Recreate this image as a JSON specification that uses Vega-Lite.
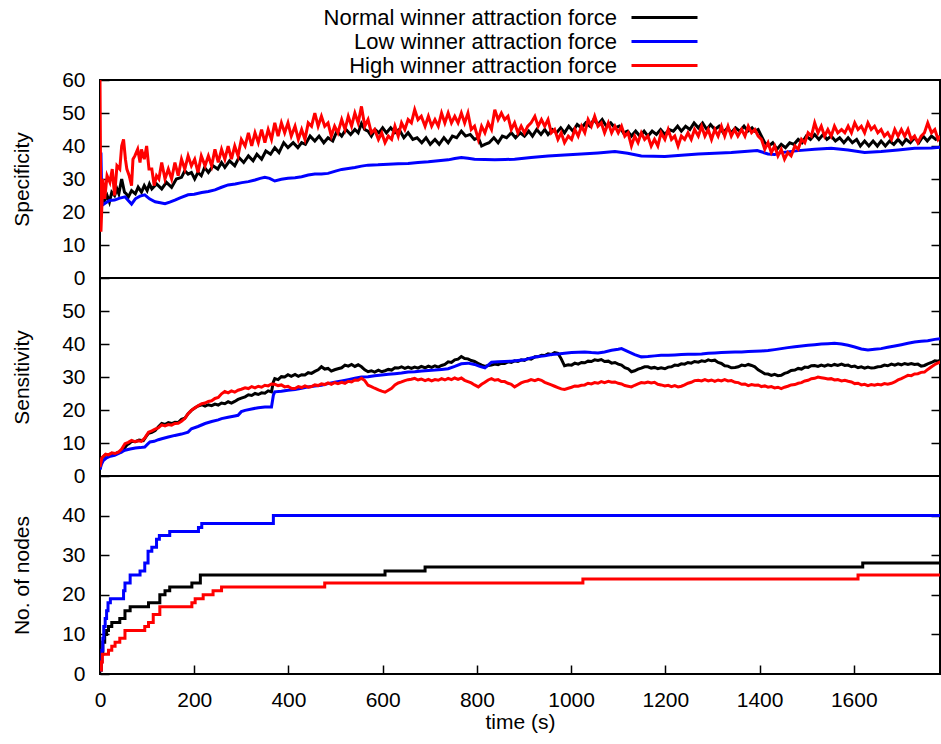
{
"$schema": "https://vega.github.io/schema/vega-lite/v6.json",
"padding": {"left": 10, "top": 5, "right": 0, "bottom": 5},
"background": "white",
"datasets": {
"spec": [
{"t":0,"v":30,"s":"N"},{"t":3,"v":22,"s":"N"},{"t":7,"v":25,"s":"N"},{"t":10,"v":23.5,"s":"N"},{"t":15,"v":25,"s":"N"},{"t":20,"v":23,"s":"N"},{"t":25,"v":26,"s":"N"},{"t":31,"v":25,"s":"N"},{"t":36,"v":27,"s":"N"},{"t":40,"v":25.5,"s":"N"},{"t":46,"v":30,"s":"N"},{"t":52,"v":26,"s":"N"},{"t":56,"v":25.5,"s":"N"},{"t":60,"v":24.5,"s":"N"},{"t":67,"v":26.5,"s":"N"},{"t":75,"v":25.5,"s":"N"},{"t":81,"v":27.5,"s":"N"},{"t":88,"v":26,"s":"N"},{"t":94,"v":28,"s":"N"},{"t":100,"v":26.5,"s":"N"},{"t":105,"v":28.5,"s":"N"},{"t":110,"v":27,"s":"N"},{"t":120,"v":28.5,"s":"N"},{"t":131,"v":27,"s":"N"},{"t":141,"v":29,"s":"N"},{"t":152,"v":27.5,"s":"N"},{"t":162,"v":30,"s":"N"},{"t":173,"v":30.5,"s":"N"},{"t":180,"v":32.5,"s":"N"},{"t":187,"v":31.5,"s":"N"},{"t":194,"v":32,"s":"N"},{"t":201,"v":30,"s":"N"},{"t":208,"v":32,"s":"N"},{"t":215,"v":31,"s":"N"},{"t":222,"v":33.5,"s":"N"},{"t":230,"v":32,"s":"N"},{"t":240,"v":34,"s":"N"},{"t":250,"v":33,"s":"N"},{"t":258,"v":35,"s":"N"},{"t":265,"v":33.5,"s":"N"},{"t":275,"v":35.5,"s":"N"},{"t":286,"v":34,"s":"N"},{"t":295,"v":36.5,"s":"N"},{"t":305,"v":35,"s":"N"},{"t":315,"v":37,"s":"N"},{"t":325,"v":35.5,"s":"N"},{"t":333,"v":37.5,"s":"N"},{"t":343,"v":36,"s":"N"},{"t":352,"v":38.5,"s":"N"},{"t":362,"v":37.5,"s":"N"},{"t":371,"v":39.5,"s":"N"},{"t":380,"v":38,"s":"N"},{"t":390,"v":41,"s":"N"},{"t":399,"v":39.5,"s":"N"},{"t":410,"v":41,"s":"N"},{"t":420,"v":39.5,"s":"N"},{"t":428,"v":41,"s":"N"},{"t":436,"v":40.5,"s":"N"},{"t":446,"v":43,"s":"N"},{"t":456,"v":41.5,"s":"N"},{"t":465,"v":43,"s":"N"},{"t":475,"v":41,"s":"N"},{"t":484,"v":42.5,"s":"N"},{"t":494,"v":41.5,"s":"N"},{"t":503,"v":44.5,"s":"N"},{"t":513,"v":43,"s":"N"},{"t":522,"v":45,"s":"N"},{"t":532,"v":43.5,"s":"N"},{"t":541,"v":45,"s":"N"},{"t":548,"v":44,"s":"N"},{"t":555,"v":46.8,"s":"N"},{"t":562,"v":45,"s":"N"},{"t":569,"v":44.5,"s":"N"},{"t":576,"v":43,"s":"N"},{"t":584,"v":45,"s":"N"},{"t":592,"v":44,"s":"N"},{"t":600,"v":45.5,"s":"N"},{"t":608,"v":44,"s":"N"},{"t":617,"v":45.5,"s":"N"},{"t":626,"v":44,"s":"N"},{"t":635,"v":45,"s":"N"},{"t":645,"v":42.5,"s":"N"},{"t":654,"v":44,"s":"N"},{"t":664,"v":42,"s":"N"},{"t":673,"v":42.5,"s":"N"},{"t":683,"v":41,"s":"N"},{"t":692,"v":42.5,"s":"N"},{"t":701,"v":40.5,"s":"N"},{"t":711,"v":42,"s":"N"},{"t":720,"v":40.5,"s":"N"},{"t":730,"v":42.5,"s":"N"},{"t":739,"v":41,"s":"N"},{"t":748,"v":43,"s":"N"},{"t":757,"v":42.5,"s":"N"},{"t":767,"v":44.5,"s":"N"},{"t":776,"v":43,"s":"N"},{"t":786,"v":43.5,"s":"N"},{"t":795,"v":42,"s":"N"},{"t":803,"v":42.5,"s":"N"},{"t":810,"v":40,"s":"N"},{"t":817,"v":40.5,"s":"N"},{"t":826,"v":41,"s":"N"},{"t":836,"v":42.5,"s":"N"},{"t":845,"v":41,"s":"N"},{"t":854,"v":43,"s":"N"},{"t":863,"v":42.5,"s":"N"},{"t":873,"v":44,"s":"N"},{"t":882,"v":42.5,"s":"N"},{"t":892,"v":44,"s":"N"},{"t":901,"v":43,"s":"N"},{"t":910,"v":44.5,"s":"N"},{"t":918,"v":43,"s":"N"},{"t":927,"v":45,"s":"N"},{"t":936,"v":43.5,"s":"N"},{"t":944,"v":45,"s":"N"},{"t":951,"v":43.5,"s":"N"},{"t":960,"v":45,"s":"N"},{"t":969,"v":44,"s":"N"},{"t":978,"v":45.5,"s":"N"},{"t":986,"v":44,"s":"N"},{"t":995,"v":46,"s":"N"},{"t":1004,"v":44.5,"s":"N"},{"t":1013,"v":46.5,"s":"N"},{"t":1022,"v":45.5,"s":"N"},{"t":1031,"v":47,"s":"N"},{"t":1040,"v":46,"s":"N"},{"t":1048,"v":48,"s":"N"},{"t":1057,"v":46.5,"s":"N"},{"t":1066,"v":48,"s":"N"},{"t":1075,"v":46,"s":"N"},{"t":1084,"v":47,"s":"N"},{"t":1093,"v":45.5,"s":"N"},{"t":1102,"v":46,"s":"N"},{"t":1111,"v":44,"s":"N"},{"t":1120,"v":44.5,"s":"N"},{"t":1128,"v":43,"s":"N"},{"t":1137,"v":44.5,"s":"N"},{"t":1146,"v":43,"s":"N"},{"t":1155,"v":44.5,"s":"N"},{"t":1163,"v":43,"s":"N"},{"t":1172,"v":44.5,"s":"N"},{"t":1181,"v":43.5,"s":"N"},{"t":1190,"v":45,"s":"N"},{"t":1199,"v":43.5,"s":"N"},{"t":1208,"v":45,"s":"N"},{"t":1217,"v":44.5,"s":"N"},{"t":1226,"v":46,"s":"N"},{"t":1234,"v":44.5,"s":"N"},{"t":1243,"v":46,"s":"N"},{"t":1252,"v":45,"s":"N"},{"t":1261,"v":47,"s":"N"},{"t":1270,"v":45.5,"s":"N"},{"t":1279,"v":47,"s":"N"},{"t":1288,"v":45,"s":"N"},{"t":1296,"v":46.5,"s":"N"},{"t":1305,"v":45,"s":"N"},{"t":1314,"v":46,"s":"N"},{"t":1323,"v":44,"s":"N"},{"t":1332,"v":45.5,"s":"N"},{"t":1340,"v":44,"s":"N"},{"t":1349,"v":45.5,"s":"N"},{"t":1358,"v":44.5,"s":"N"},{"t":1367,"v":46,"s":"N"},{"t":1375,"v":44.5,"s":"N"},{"t":1384,"v":45.5,"s":"N"},{"t":1390,"v":44.5,"s":"N"},{"t":1397,"v":45,"s":"N"},{"t":1404,"v":43,"s":"N"},{"t":1411,"v":41,"s":"N"},{"t":1420,"v":40,"s":"N"},{"t":1428,"v":41,"s":"N"},{"t":1437,"v":39,"s":"N"},{"t":1446,"v":40.5,"s":"N"},{"t":1455,"v":39.5,"s":"N"},{"t":1464,"v":41,"s":"N"},{"t":1473,"v":40.5,"s":"N"},{"t":1482,"v":42,"s":"N"},{"t":1490,"v":41,"s":"N"},{"t":1499,"v":43,"s":"N"},{"t":1508,"v":42,"s":"N"},{"t":1517,"v":43.5,"s":"N"},{"t":1526,"v":42,"s":"N"},{"t":1535,"v":43.5,"s":"N"},{"t":1543,"v":42,"s":"N"},{"t":1552,"v":43,"s":"N"},{"t":1561,"v":41.5,"s":"N"},{"t":1570,"v":42.5,"s":"N"},{"t":1579,"v":41,"s":"N"},{"t":1588,"v":42.5,"s":"N"},{"t":1597,"v":41,"s":"N"},{"t":1606,"v":42,"s":"N"},{"t":1614,"v":40,"s":"N"},{"t":1623,"v":41.5,"s":"N"},{"t":1632,"v":40,"s":"N"},{"t":1641,"v":41.5,"s":"N"},{"t":1650,"v":40,"s":"N"},{"t":1658,"v":41.5,"s":"N"},{"t":1667,"v":40,"s":"N"},{"t":1676,"v":41.5,"s":"N"},{"t":1685,"v":40.5,"s":"N"},{"t":1694,"v":42,"s":"N"},{"t":1703,"v":40.5,"s":"N"},{"t":1711,"v":42,"s":"N"},{"t":1720,"v":41,"s":"N"},{"t":1729,"v":42.5,"s":"N"},{"t":1738,"v":41,"s":"N"},{"t":1747,"v":43,"s":"N"},{"t":1756,"v":41.5,"s":"N"},{"t":1765,"v":43,"s":"N"},{"t":1774,"v":42,"s":"N"},{"t":1784,"v":43,"s":"N"},
{"t":0,"v":24,"s":"L"},{"t":2,"v":38,"s":"L"},{"t":4,"v":22,"s":"L"},{"t":10,"v":22.6,"s":"L"},{"t":20,"v":23.5,"s":"L"},{"t":31,"v":23.6,"s":"L"},{"t":42,"v":24.2,"s":"L"},{"t":53,"v":24.6,"s":"L"},{"t":60,"v":23.5,"s":"L"},{"t":67,"v":22.4,"s":"L"},{"t":75,"v":24,"s":"L"},{"t":85,"v":24.8,"s":"L"},{"t":95,"v":25.2,"s":"L"},{"t":105,"v":24,"s":"L"},{"t":117,"v":23.1,"s":"L"},{"t":128,"v":22.8,"s":"L"},{"t":138,"v":22.5,"s":"L"},{"t":148,"v":23,"s":"L"},{"t":159,"v":23.6,"s":"L"},{"t":170,"v":24.3,"s":"L"},{"t":187,"v":25.2,"s":"L"},{"t":200,"v":25.4,"s":"L"},{"t":216,"v":25.9,"s":"L"},{"t":230,"v":26.2,"s":"L"},{"t":244,"v":26.7,"s":"L"},{"t":258,"v":27.5,"s":"L"},{"t":272,"v":28.2,"s":"L"},{"t":287,"v":28.5,"s":"L"},{"t":301,"v":28.9,"s":"L"},{"t":315,"v":29.2,"s":"L"},{"t":329,"v":29.7,"s":"L"},{"t":340,"v":30.2,"s":"L"},{"t":350,"v":30.5,"s":"L"},{"t":360,"v":30.2,"s":"L"},{"t":371,"v":29.4,"s":"L"},{"t":385,"v":29.9,"s":"L"},{"t":399,"v":30.2,"s":"L"},{"t":414,"v":30.4,"s":"L"},{"t":428,"v":30.7,"s":"L"},{"t":442,"v":31.2,"s":"L"},{"t":456,"v":31.5,"s":"L"},{"t":470,"v":31.5,"s":"L"},{"t":484,"v":31.7,"s":"L"},{"t":498,"v":32.3,"s":"L"},{"t":513,"v":32.9,"s":"L"},{"t":527,"v":33.2,"s":"L"},{"t":541,"v":33.5,"s":"L"},{"t":555,"v":33.9,"s":"L"},{"t":569,"v":34.2,"s":"L"},{"t":590,"v":34.3,"s":"L"},{"t":612,"v":34.5,"s":"L"},{"t":633,"v":34.6,"s":"L"},{"t":654,"v":34.7,"s":"L"},{"t":675,"v":35,"s":"L"},{"t":697,"v":35.2,"s":"L"},{"t":718,"v":35.5,"s":"L"},{"t":739,"v":35.8,"s":"L"},{"t":753,"v":36.2,"s":"L"},{"t":767,"v":36.5,"s":"L"},{"t":781,"v":36.3,"s":"L"},{"t":795,"v":36,"s":"L"},{"t":817,"v":35.9,"s":"L"},{"t":838,"v":35.8,"s":"L"},{"t":860,"v":35.9,"s":"L"},{"t":880,"v":36,"s":"L"},{"t":915,"v":36.5,"s":"L"},{"t":951,"v":37,"s":"L"},{"t":986,"v":37.3,"s":"L"},{"t":1022,"v":37.6,"s":"L"},{"t":1057,"v":37.9,"s":"L"},{"t":1093,"v":38.3,"s":"L"},{"t":1120,"v":37.8,"s":"L"},{"t":1149,"v":37,"s":"L"},{"t":1175,"v":36.9,"s":"L"},{"t":1199,"v":36.8,"s":"L"},{"t":1234,"v":37.2,"s":"L"},{"t":1270,"v":37.6,"s":"L"},{"t":1305,"v":37.8,"s":"L"},{"t":1340,"v":38,"s":"L"},{"t":1375,"v":38.4,"s":"L"},{"t":1395,"v":38.6,"s":"L"},{"t":1418,"v":37.6,"s":"L"},{"t":1432,"v":37.4,"s":"L"},{"t":1446,"v":38,"s":"L"},{"t":1482,"v":38.6,"s":"L"},{"t":1517,"v":39,"s":"L"},{"t":1552,"v":39.3,"s":"L"},{"t":1588,"v":38.8,"s":"L"},{"t":1623,"v":38,"s":"L"},{"t":1658,"v":38.3,"s":"L"},{"t":1694,"v":38.8,"s":"L"},{"t":1729,"v":39.3,"s":"L"},{"t":1765,"v":39.4,"s":"L"},{"t":1784,"v":39.6,"s":"L"},
{"t":0,"v":60,"s":"H"},{"t":2,"v":14,"s":"H"},{"t":6,"v":30,"s":"H"},{"t":10,"v":24,"s":"H"},{"t":15,"v":31,"s":"H"},{"t":21,"v":29,"s":"H"},{"t":26,"v":33,"s":"H"},{"t":31,"v":25,"s":"H"},{"t":36,"v":34,"s":"H"},{"t":42,"v":33,"s":"H"},{"t":46,"v":40,"s":"H"},{"t":50,"v":42,"s":"H"},{"t":54,"v":36,"s":"H"},{"t":57,"v":33,"s":"H"},{"t":62,"v":31,"s":"H"},{"t":67,"v":28,"s":"H"},{"t":70,"v":36,"s":"H"},{"t":74,"v":37,"s":"H"},{"t":80,"v":39,"s":"H"},{"t":85,"v":35,"s":"H"},{"t":88,"v":39,"s":"H"},{"t":94,"v":36,"s":"H"},{"t":99,"v":40,"s":"H"},{"t":104,"v":33,"s":"H"},{"t":110,"v":33,"s":"H"},{"t":115,"v":28,"s":"H"},{"t":120,"v":31,"s":"H"},{"t":125,"v":30,"s":"H"},{"t":131,"v":35,"s":"H"},{"t":138,"v":30,"s":"H"},{"t":145,"v":33,"s":"H"},{"t":152,"v":30,"s":"H"},{"t":159,"v":35,"s":"H"},{"t":166,"v":31,"s":"H"},{"t":173,"v":36,"s":"H"},{"t":180,"v":33,"s":"H"},{"t":187,"v":37,"s":"H"},{"t":194,"v":34,"s":"H"},{"t":201,"v":36,"s":"H"},{"t":208,"v":32,"s":"H"},{"t":215,"v":37,"s":"H"},{"t":223,"v":34,"s":"H"},{"t":230,"v":37,"s":"H"},{"t":237,"v":34,"s":"H"},{"t":244,"v":39,"s":"H"},{"t":251,"v":35,"s":"H"},{"t":258,"v":39,"s":"H"},{"t":265,"v":36,"s":"H"},{"t":272,"v":40,"s":"H"},{"t":279,"v":36,"s":"H"},{"t":286,"v":40,"s":"H"},{"t":293,"v":37,"s":"H"},{"t":300,"v":42,"s":"H"},{"t":308,"v":40,"s":"H"},{"t":315,"v":44,"s":"H"},{"t":322,"v":40,"s":"H"},{"t":329,"v":44,"s":"H"},{"t":336,"v":41,"s":"H"},{"t":343,"v":45,"s":"H"},{"t":350,"v":41,"s":"H"},{"t":357,"v":45,"s":"H"},{"t":364,"v":42,"s":"H"},{"t":371,"v":47,"s":"H"},{"t":378,"v":43,"s":"H"},{"t":385,"v":47,"s":"H"},{"t":392,"v":44,"s":"H"},{"t":399,"v":47,"s":"H"},{"t":406,"v":43,"s":"H"},{"t":414,"v":46,"s":"H"},{"t":421,"v":42,"s":"H"},{"t":428,"v":45,"s":"H"},{"t":435,"v":42,"s":"H"},{"t":442,"v":47,"s":"H"},{"t":449,"v":46,"s":"H"},{"t":456,"v":50,"s":"H"},{"t":463,"v":46,"s":"H"},{"t":470,"v":49,"s":"H"},{"t":477,"v":46,"s":"H"},{"t":484,"v":47,"s":"H"},{"t":491,"v":43,"s":"H"},{"t":498,"v":46,"s":"H"},{"t":505,"v":44,"s":"H"},{"t":513,"v":48,"s":"H"},{"t":520,"v":45,"s":"H"},{"t":527,"v":49,"s":"H"},{"t":534,"v":46,"s":"H"},{"t":541,"v":50,"s":"H"},{"t":548,"v":47,"s":"H"},{"t":555,"v":52,"s":"H"},{"t":562,"v":46,"s":"H"},{"t":569,"v":48,"s":"H"},{"t":576,"v":44,"s":"H"},{"t":583,"v":45,"s":"H"},{"t":591,"v":42,"s":"H"},{"t":598,"v":44,"s":"H"},{"t":605,"v":41,"s":"H"},{"t":612,"v":43,"s":"H"},{"t":619,"v":42,"s":"H"},{"t":626,"v":46,"s":"H"},{"t":633,"v":43,"s":"H"},{"t":640,"v":47,"s":"H"},{"t":647,"v":45,"s":"H"},{"t":654,"v":48,"s":"H"},{"t":661,"v":47,"s":"H"},{"t":668,"v":51,"s":"H"},{"t":675,"v":48,"s":"H"},{"t":682,"v":49,"s":"H"},{"t":690,"v":46,"s":"H"},{"t":697,"v":49,"s":"H"},{"t":704,"v":46,"s":"H"},{"t":711,"v":48,"s":"H"},{"t":718,"v":46,"s":"H"},{"t":725,"v":50,"s":"H"},{"t":732,"v":47,"s":"H"},{"t":739,"v":50,"s":"H"},{"t":746,"v":47,"s":"H"},{"t":753,"v":49,"s":"H"},{"t":760,"v":47,"s":"H"},{"t":767,"v":50,"s":"H"},{"t":774,"v":47,"s":"H"},{"t":781,"v":50,"s":"H"},{"t":788,"v":45,"s":"H"},{"t":795,"v":46,"s":"H"},{"t":803,"v":42,"s":"H"},{"t":810,"v":46,"s":"H"},{"t":817,"v":44,"s":"H"},{"t":824,"v":47,"s":"H"},{"t":831,"v":45,"s":"H"},{"t":838,"v":51,"s":"H"},{"t":845,"v":48,"s":"H"},{"t":852,"v":50,"s":"H"},{"t":859,"v":48,"s":"H"},{"t":866,"v":49,"s":"H"},{"t":873,"v":45,"s":"H"},{"t":880,"v":47,"s":"H"},{"t":887,"v":44,"s":"H"},{"t":894,"v":46,"s":"H"},{"t":901,"v":44,"s":"H"},{"t":908,"v":46,"s":"H"},{"t":915,"v":47,"s":"H"},{"t":923,"v":49,"s":"H"},{"t":930,"v":46,"s":"H"},{"t":937,"v":48,"s":"H"},{"t":944,"v":46,"s":"H"},{"t":951,"v":48,"s":"H"},{"t":958,"v":44,"s":"H"},{"t":965,"v":45,"s":"H"},{"t":972,"v":42,"s":"H"},{"t":979,"v":44,"s":"H"},{"t":986,"v":41,"s":"H"},{"t":994,"v":43,"s":"H"},{"t":1001,"v":42,"s":"H"},{"t":1008,"v":45,"s":"H"},{"t":1015,"v":43,"s":"H"},{"t":1022,"v":46,"s":"H"},{"t":1029,"v":44,"s":"H"},{"t":1036,"v":48,"s":"H"},{"t":1043,"v":46,"s":"H"},{"t":1050,"v":49,"s":"H"},{"t":1057,"v":46,"s":"H"},{"t":1064,"v":47,"s":"H"},{"t":1071,"v":44,"s":"H"},{"t":1079,"v":47,"s":"H"},{"t":1086,"v":44,"s":"H"},{"t":1093,"v":46,"s":"H"},{"t":1100,"v":44,"s":"H"},{"t":1107,"v":46,"s":"H"},{"t":1114,"v":43,"s":"H"},{"t":1121,"v":44,"s":"H"},{"t":1128,"v":40,"s":"H"},{"t":1135,"v":43,"s":"H"},{"t":1142,"v":41,"s":"H"},{"t":1149,"v":44,"s":"H"},{"t":1156,"v":42,"s":"H"},{"t":1163,"v":43,"s":"H"},{"t":1170,"v":40,"s":"H"},{"t":1177,"v":42,"s":"H"},{"t":1184,"v":40,"s":"H"},{"t":1191,"v":44,"s":"H"},{"t":1199,"v":42,"s":"H"},{"t":1206,"v":45,"s":"H"},{"t":1213,"v":42,"s":"H"},{"t":1220,"v":43,"s":"H"},{"t":1227,"v":40,"s":"H"},{"t":1234,"v":43,"s":"H"},{"t":1241,"v":42,"s":"H"},{"t":1248,"v":44,"s":"H"},{"t":1255,"v":42,"s":"H"},{"t":1262,"v":45,"s":"H"},{"t":1270,"v":43,"s":"H"},{"t":1277,"v":46,"s":"H"},{"t":1284,"v":43,"s":"H"},{"t":1291,"v":45,"s":"H"},{"t":1298,"v":42,"s":"H"},{"t":1305,"v":45,"s":"H"},{"t":1312,"v":43,"s":"H"},{"t":1319,"v":46,"s":"H"},{"t":1326,"v":43,"s":"H"},{"t":1333,"v":46,"s":"H"},{"t":1340,"v":43,"s":"H"},{"t":1347,"v":45,"s":"H"},{"t":1354,"v":43,"s":"H"},{"t":1362,"v":45,"s":"H"},{"t":1369,"v":43,"s":"H"},{"t":1376,"v":46,"s":"H"},{"t":1383,"v":44,"s":"H"},{"t":1390,"v":45,"s":"H"},{"t":1397,"v":43,"s":"H"},{"t":1404,"v":42,"s":"H"},{"t":1411,"v":39,"s":"H"},{"t":1418,"v":41,"s":"H"},{"t":1425,"v":38,"s":"H"},{"t":1432,"v":40,"s":"H"},{"t":1439,"v":37,"s":"H"},{"t":1446,"v":39,"s":"H"},{"t":1453,"v":36,"s":"H"},{"t":1460,"v":38,"s":"H"},{"t":1467,"v":37,"s":"H"},{"t":1475,"v":40,"s":"H"},{"t":1482,"v":39,"s":"H"},{"t":1489,"v":42,"s":"H"},{"t":1496,"v":41,"s":"H"},{"t":1503,"v":44,"s":"H"},{"t":1510,"v":43,"s":"H"},{"t":1517,"v":47,"s":"H"},{"t":1524,"v":44,"s":"H"},{"t":1531,"v":46,"s":"H"},{"t":1538,"v":43,"s":"H"},{"t":1545,"v":45,"s":"H"},{"t":1552,"v":43,"s":"H"},{"t":1559,"v":46,"s":"H"},{"t":1566,"v":44,"s":"H"},{"t":1574,"v":45,"s":"H"},{"t":1581,"v":44,"s":"H"},{"t":1588,"v":46,"s":"H"},{"t":1595,"v":44,"s":"H"},{"t":1602,"v":47,"s":"H"},{"t":1609,"v":45,"s":"H"},{"t":1616,"v":46,"s":"H"},{"t":1623,"v":44,"s":"H"},{"t":1630,"v":47,"s":"H"},{"t":1637,"v":45,"s":"H"},{"t":1644,"v":46,"s":"H"},{"t":1651,"v":44,"s":"H"},{"t":1658,"v":45,"s":"H"},{"t":1665,"v":43,"s":"H"},{"t":1672,"v":44,"s":"H"},{"t":1680,"v":42,"s":"H"},{"t":1687,"v":45,"s":"H"},{"t":1694,"v":43,"s":"H"},{"t":1701,"v":45,"s":"H"},{"t":1708,"v":43,"s":"H"},{"t":1715,"v":45,"s":"H"},{"t":1722,"v":42,"s":"H"},{"t":1729,"v":43,"s":"H"},{"t":1736,"v":41,"s":"H"},{"t":1743,"v":43,"s":"H"},{"t":1750,"v":44,"s":"H"},{"t":1757,"v":47,"s":"H"},{"t":1765,"v":44,"s":"H"},{"t":1772,"v":45,"s":"H"},{"t":1779,"v":42,"s":"H"},{"t":1784,"v":43,"s":"H"}
],
"sens": [
{"t":0,"v":2.2,"s":"N"},{"t":4,"v":5.5,"s":"N"},{"t":7,"v":5.8,"s":"N"},{"t":12,"v":6.5,"s":"N"},{"t":18,"v":6.3,"s":"N"},{"t":25,"v":6.9,"s":"N"},{"t":32,"v":6.7,"s":"N"},{"t":39,"v":7.2,"s":"N"},{"t":46,"v":7.3,"s":"N"},{"t":52,"v":8.5,"s":"N"},{"t":57,"v":9.4,"s":"N"},{"t":62,"v":9.8,"s":"N"},{"t":67,"v":10.5,"s":"N"},{"t":75,"v":10.4,"s":"N"},{"t":83,"v":10.9,"s":"N"},{"t":92,"v":10.7,"s":"N"},{"t":98,"v":12,"s":"N"},{"t":103,"v":12.9,"s":"N"},{"t":110,"v":13.2,"s":"N"},{"t":117,"v":13.8,"s":"N"},{"t":124,"v":14.9,"s":"N"},{"t":131,"v":15.9,"s":"N"},{"t":138,"v":15.6,"s":"N"},{"t":145,"v":16.2,"s":"N"},{"t":152,"v":15.9,"s":"N"},{"t":159,"v":16.3,"s":"N"},{"t":166,"v":16.2,"s":"N"},{"t":173,"v":17.2,"s":"N"},{"t":180,"v":17.5,"s":"N"},{"t":187,"v":18.9,"s":"N"},{"t":194,"v":19.9,"s":"N"},{"t":201,"v":20.6,"s":"N"},{"t":208,"v":21.2,"s":"N"},{"t":216,"v":21.6,"s":"N"},{"t":223,"v":21.2,"s":"N"},{"t":230,"v":21.6,"s":"N"},{"t":237,"v":21.3,"s":"N"},{"t":244,"v":21.8,"s":"N"},{"t":251,"v":21.5,"s":"N"},{"t":258,"v":22.1,"s":"N"},{"t":265,"v":21.9,"s":"N"},{"t":272,"v":22.5,"s":"N"},{"t":279,"v":22.1,"s":"N"},{"t":286,"v":22.6,"s":"N"},{"t":293,"v":23.2,"s":"N"},{"t":300,"v":23.6,"s":"N"},{"t":308,"v":24,"s":"N"},{"t":315,"v":24.6,"s":"N"},{"t":322,"v":24.4,"s":"N"},{"t":329,"v":25,"s":"N"},{"t":336,"v":24.7,"s":"N"},{"t":343,"v":25.2,"s":"N"},{"t":350,"v":25.1,"s":"N"},{"t":357,"v":25.8,"s":"N"},{"t":364,"v":25.5,"s":"N"},{"t":368,"v":28.5,"s":"N"},{"t":371,"v":29.5,"s":"N"},{"t":378,"v":29.2,"s":"N"},{"t":385,"v":30.1,"s":"N"},{"t":392,"v":30,"s":"N"},{"t":399,"v":30.7,"s":"N"},{"t":406,"v":30.2,"s":"N"},{"t":414,"v":30.8,"s":"N"},{"t":421,"v":30.2,"s":"N"},{"t":428,"v":30.7,"s":"N"},{"t":435,"v":30.6,"s":"N"},{"t":442,"v":31.3,"s":"N"},{"t":449,"v":31.1,"s":"N"},{"t":456,"v":31.7,"s":"N"},{"t":463,"v":32.2,"s":"N"},{"t":470,"v":33.1,"s":"N"},{"t":477,"v":32.4,"s":"N"},{"t":484,"v":32.6,"s":"N"},{"t":491,"v":31.8,"s":"N"},{"t":498,"v":32.2,"s":"N"},{"t":505,"v":32.5,"s":"N"},{"t":513,"v":32.8,"s":"N"},{"t":520,"v":33.6,"s":"N"},{"t":527,"v":33.3,"s":"N"},{"t":534,"v":33.8,"s":"N"},{"t":541,"v":33.2,"s":"N"},{"t":548,"v":33.7,"s":"N"},{"t":555,"v":33.1,"s":"N"},{"t":562,"v":32.2,"s":"N"},{"t":569,"v":31.6,"s":"N"},{"t":576,"v":31.9,"s":"N"},{"t":583,"v":31.5,"s":"N"},{"t":591,"v":32.1,"s":"N"},{"t":598,"v":31.6,"s":"N"},{"t":605,"v":31.9,"s":"N"},{"t":612,"v":32.3,"s":"N"},{"t":619,"v":32.1,"s":"N"},{"t":626,"v":32.8,"s":"N"},{"t":633,"v":32.7,"s":"N"},{"t":640,"v":33.1,"s":"N"},{"t":647,"v":32.6,"s":"N"},{"t":654,"v":33,"s":"N"},{"t":661,"v":32.6,"s":"N"},{"t":668,"v":33,"s":"N"},{"t":675,"v":32.7,"s":"N"},{"t":682,"v":33.2,"s":"N"},{"t":690,"v":32.8,"s":"N"},{"t":697,"v":33.3,"s":"N"},{"t":704,"v":32.9,"s":"N"},{"t":711,"v":33.4,"s":"N"},{"t":718,"v":33,"s":"N"},{"t":725,"v":33.5,"s":"N"},{"t":732,"v":33.8,"s":"N"},{"t":739,"v":34.6,"s":"N"},{"t":746,"v":34.4,"s":"N"},{"t":753,"v":35.2,"s":"N"},{"t":760,"v":35.4,"s":"N"},{"t":767,"v":36.2,"s":"N"},{"t":774,"v":35.6,"s":"N"},{"t":781,"v":35.5,"s":"N"},{"t":788,"v":35,"s":"N"},{"t":795,"v":34.7,"s":"N"},{"t":803,"v":34.1,"s":"N"},{"t":810,"v":33.6,"s":"N"},{"t":817,"v":33.2,"s":"N"},{"t":824,"v":33.5,"s":"N"},{"t":831,"v":33.6,"s":"N"},{"t":838,"v":33.9,"s":"N"},{"t":845,"v":33.7,"s":"N"},{"t":852,"v":34.2,"s":"N"},{"t":859,"v":34.1,"s":"N"},{"t":866,"v":34.6,"s":"N"},{"t":873,"v":34.4,"s":"N"},{"t":880,"v":34.9,"s":"N"},{"t":887,"v":34.7,"s":"N"},{"t":894,"v":35.2,"s":"N"},{"t":901,"v":35,"s":"N"},{"t":908,"v":35.6,"s":"N"},{"t":915,"v":35.4,"s":"N"},{"t":923,"v":36.1,"s":"N"},{"t":930,"v":36.1,"s":"N"},{"t":937,"v":36.6,"s":"N"},{"t":944,"v":36.5,"s":"N"},{"t":951,"v":37,"s":"N"},{"t":958,"v":36.8,"s":"N"},{"t":965,"v":37.4,"s":"N"},{"t":972,"v":37.2,"s":"N"},{"t":979,"v":35.5,"s":"N"},{"t":986,"v":33.4,"s":"N"},{"t":994,"v":33.7,"s":"N"},{"t":1001,"v":33.6,"s":"N"},{"t":1008,"v":34.2,"s":"N"},{"t":1015,"v":33.9,"s":"N"},{"t":1022,"v":34.4,"s":"N"},{"t":1029,"v":34.3,"s":"N"},{"t":1036,"v":34.8,"s":"N"},{"t":1043,"v":34.7,"s":"N"},{"t":1050,"v":35.2,"s":"N"},{"t":1057,"v":35,"s":"N"},{"t":1064,"v":35.3,"s":"N"},{"t":1071,"v":34.7,"s":"N"},{"t":1079,"v":34.8,"s":"N"},{"t":1086,"v":34.2,"s":"N"},{"t":1093,"v":34.4,"s":"N"},{"t":1100,"v":33.9,"s":"N"},{"t":1107,"v":33.6,"s":"N"},{"t":1114,"v":32.8,"s":"N"},{"t":1121,"v":32.5,"s":"N"},{"t":1128,"v":31.6,"s":"N"},{"t":1135,"v":31.9,"s":"N"},{"t":1142,"v":32.4,"s":"N"},{"t":1149,"v":32.7,"s":"N"},{"t":1156,"v":33.1,"s":"N"},{"t":1163,"v":33.1,"s":"N"},{"t":1170,"v":32.7,"s":"N"},{"t":1177,"v":32.9,"s":"N"},{"t":1184,"v":32.5,"s":"N"},{"t":1191,"v":32.8,"s":"N"},{"t":1199,"v":32.5,"s":"N"},{"t":1206,"v":33,"s":"N"},{"t":1213,"v":33.1,"s":"N"},{"t":1220,"v":33.6,"s":"N"},{"t":1227,"v":33.5,"s":"N"},{"t":1234,"v":34,"s":"N"},{"t":1241,"v":33.9,"s":"N"},{"t":1248,"v":34.4,"s":"N"},{"t":1255,"v":34.2,"s":"N"},{"t":1262,"v":34.7,"s":"N"},{"t":1270,"v":34.5,"s":"N"},{"t":1277,"v":34.9,"s":"N"},{"t":1284,"v":34.7,"s":"N"},{"t":1291,"v":35.2,"s":"N"},{"t":1298,"v":34.9,"s":"N"},{"t":1305,"v":35.1,"s":"N"},{"t":1312,"v":34.4,"s":"N"},{"t":1319,"v":34.1,"s":"N"},{"t":1326,"v":33.4,"s":"N"},{"t":1333,"v":33.3,"s":"N"},{"t":1340,"v":32.8,"s":"N"},{"t":1348,"v":32.9,"s":"N"},{"t":1355,"v":33.1,"s":"N"},{"t":1362,"v":33.6,"s":"N"},{"t":1369,"v":33.4,"s":"N"},{"t":1376,"v":33.8,"s":"N"},{"t":1383,"v":33.5,"s":"N"},{"t":1390,"v":33.1,"s":"N"},{"t":1397,"v":32.2,"s":"N"},{"t":1404,"v":31.6,"s":"N"},{"t":1411,"v":31,"s":"N"},{"t":1418,"v":30.9,"s":"N"},{"t":1425,"v":30.5,"s":"N"},{"t":1432,"v":30.8,"s":"N"},{"t":1439,"v":30.4,"s":"N"},{"t":1446,"v":30.5,"s":"N"},{"t":1453,"v":31.1,"s":"N"},{"t":1460,"v":31.4,"s":"N"},{"t":1467,"v":32,"s":"N"},{"t":1475,"v":32.1,"s":"N"},{"t":1482,"v":32.6,"s":"N"},{"t":1489,"v":32.4,"s":"N"},{"t":1496,"v":33,"s":"N"},{"t":1503,"v":32.9,"s":"N"},{"t":1510,"v":33.4,"s":"N"},{"t":1517,"v":33.5,"s":"N"},{"t":1524,"v":33.2,"s":"N"},{"t":1531,"v":33.6,"s":"N"},{"t":1538,"v":33.3,"s":"N"},{"t":1545,"v":33.7,"s":"N"},{"t":1552,"v":33.4,"s":"N"},{"t":1559,"v":33.8,"s":"N"},{"t":1566,"v":33.5,"s":"N"},{"t":1574,"v":33.9,"s":"N"},{"t":1581,"v":33.5,"s":"N"},{"t":1588,"v":33.6,"s":"N"},{"t":1595,"v":33.1,"s":"N"},{"t":1602,"v":33.3,"s":"N"},{"t":1609,"v":32.8,"s":"N"},{"t":1616,"v":33.1,"s":"N"},{"t":1623,"v":32.7,"s":"N"},{"t":1630,"v":33,"s":"N"},{"t":1637,"v":32.7,"s":"N"},{"t":1644,"v":32.8,"s":"N"},{"t":1651,"v":33.1,"s":"N"},{"t":1658,"v":33.2,"s":"N"},{"t":1665,"v":33.6,"s":"N"},{"t":1672,"v":33.4,"s":"N"},{"t":1680,"v":33.9,"s":"N"},{"t":1687,"v":33.6,"s":"N"},{"t":1694,"v":34,"s":"N"},{"t":1701,"v":33.7,"s":"N"},{"t":1708,"v":34.1,"s":"N"},{"t":1715,"v":33.8,"s":"N"},{"t":1722,"v":34.1,"s":"N"},{"t":1729,"v":33.8,"s":"N"},{"t":1736,"v":33.9,"s":"N"},{"t":1743,"v":33.3,"s":"N"},{"t":1750,"v":33.5,"s":"N"},{"t":1757,"v":34,"s":"N"},{"t":1765,"v":34.4,"s":"N"},{"t":1772,"v":34.9,"s":"N"},{"t":1779,"v":34.8,"s":"N"},{"t":1784,"v":35.1,"s":"N"},
{"t":0,"v":1.9,"s":"L"},{"t":3,"v":3.5,"s":"L"},{"t":7,"v":4.7,"s":"L"},{"t":14,"v":5.5,"s":"L"},{"t":22,"v":6,"s":"L"},{"t":31,"v":6.3,"s":"L"},{"t":42,"v":7,"s":"L"},{"t":53,"v":7.8,"s":"L"},{"t":64,"v":8.2,"s":"L"},{"t":75,"v":8.5,"s":"L"},{"t":85,"v":8.6,"s":"L"},{"t":95,"v":8.8,"s":"L"},{"t":100,"v":9.5,"s":"L"},{"t":106,"v":10.3,"s":"L"},{"t":115,"v":10.5,"s":"L"},{"t":124,"v":11,"s":"L"},{"t":131,"v":11.3,"s":"L"},{"t":145,"v":11.8,"s":"L"},{"t":159,"v":12.3,"s":"L"},{"t":173,"v":12.7,"s":"L"},{"t":187,"v":13.3,"s":"L"},{"t":194,"v":14.3,"s":"L"},{"t":208,"v":15,"s":"L"},{"t":223,"v":15.9,"s":"L"},{"t":237,"v":16.5,"s":"L"},{"t":251,"v":17,"s":"L"},{"t":258,"v":17.4,"s":"L"},{"t":272,"v":17.8,"s":"L"},{"t":286,"v":18.2,"s":"L"},{"t":293,"v":18.4,"s":"L"},{"t":300,"v":19.5,"s":"L"},{"t":308,"v":19.9,"s":"L"},{"t":322,"v":20.3,"s":"L"},{"t":336,"v":20.7,"s":"L"},{"t":350,"v":20.9,"s":"L"},{"t":364,"v":20.9,"s":"L"},{"t":368,"v":24.5,"s":"L"},{"t":371,"v":25.5,"s":"L"},{"t":385,"v":25.7,"s":"L"},{"t":399,"v":26,"s":"L"},{"t":414,"v":26.2,"s":"L"},{"t":428,"v":26.6,"s":"L"},{"t":442,"v":27,"s":"L"},{"t":456,"v":27.3,"s":"L"},{"t":470,"v":27.5,"s":"L"},{"t":484,"v":28,"s":"L"},{"t":498,"v":28.4,"s":"L"},{"t":513,"v":28.8,"s":"L"},{"t":527,"v":29.2,"s":"L"},{"t":541,"v":29.6,"s":"L"},{"t":555,"v":30,"s":"L"},{"t":569,"v":30.1,"s":"L"},{"t":583,"v":30.4,"s":"L"},{"t":598,"v":30.6,"s":"L"},{"t":612,"v":30.8,"s":"L"},{"t":626,"v":31,"s":"L"},{"t":640,"v":31.2,"s":"L"},{"t":654,"v":31.5,"s":"L"},{"t":668,"v":31.6,"s":"L"},{"t":683,"v":31.8,"s":"L"},{"t":697,"v":32,"s":"L"},{"t":711,"v":32.1,"s":"L"},{"t":725,"v":32.3,"s":"L"},{"t":739,"v":32.5,"s":"L"},{"t":753,"v":33.2,"s":"L"},{"t":767,"v":34,"s":"L"},{"t":781,"v":34.2,"s":"L"},{"t":795,"v":33.8,"s":"L"},{"t":806,"v":33.2,"s":"L"},{"t":817,"v":32.8,"s":"L"},{"t":824,"v":33.6,"s":"L"},{"t":831,"v":34.5,"s":"L"},{"t":845,"v":34.6,"s":"L"},{"t":859,"v":34.7,"s":"L"},{"t":873,"v":34.8,"s":"L"},{"t":887,"v":35,"s":"L"},{"t":901,"v":35.2,"s":"L"},{"t":915,"v":35.8,"s":"L"},{"t":930,"v":36.2,"s":"L"},{"t":944,"v":36.4,"s":"L"},{"t":958,"v":36.8,"s":"L"},{"t":972,"v":37,"s":"L"},{"t":986,"v":37.2,"s":"L"},{"t":1001,"v":37.4,"s":"L"},{"t":1015,"v":37.5,"s":"L"},{"t":1029,"v":37.6,"s":"L"},{"t":1043,"v":37.4,"s":"L"},{"t":1057,"v":37.3,"s":"L"},{"t":1071,"v":37.6,"s":"L"},{"t":1086,"v":38.1,"s":"L"},{"t":1100,"v":38.4,"s":"L"},{"t":1107,"v":38.6,"s":"L"},{"t":1121,"v":37.7,"s":"L"},{"t":1135,"v":36.8,"s":"L"},{"t":1149,"v":36.1,"s":"L"},{"t":1163,"v":36.2,"s":"L"},{"t":1177,"v":36.4,"s":"L"},{"t":1191,"v":36.6,"s":"L"},{"t":1206,"v":36.6,"s":"L"},{"t":1220,"v":36.7,"s":"L"},{"t":1234,"v":36.8,"s":"L"},{"t":1248,"v":36.9,"s":"L"},{"t":1263,"v":36.9,"s":"L"},{"t":1277,"v":37,"s":"L"},{"t":1291,"v":37.2,"s":"L"},{"t":1305,"v":37.3,"s":"L"},{"t":1319,"v":37.4,"s":"L"},{"t":1333,"v":37.5,"s":"L"},{"t":1348,"v":37.6,"s":"L"},{"t":1362,"v":37.6,"s":"L"},{"t":1376,"v":37.7,"s":"L"},{"t":1390,"v":37.8,"s":"L"},{"t":1404,"v":37.9,"s":"L"},{"t":1418,"v":38,"s":"L"},{"t":1432,"v":38.3,"s":"L"},{"t":1446,"v":38.6,"s":"L"},{"t":1460,"v":38.9,"s":"L"},{"t":1475,"v":39.2,"s":"L"},{"t":1489,"v":39.4,"s":"L"},{"t":1503,"v":39.6,"s":"L"},{"t":1517,"v":39.8,"s":"L"},{"t":1531,"v":40,"s":"L"},{"t":1545,"v":40.1,"s":"L"},{"t":1559,"v":40.2,"s":"L"},{"t":1574,"v":40,"s":"L"},{"t":1588,"v":39.6,"s":"L"},{"t":1602,"v":39.1,"s":"L"},{"t":1616,"v":38.5,"s":"L"},{"t":1630,"v":38.2,"s":"L"},{"t":1644,"v":38.4,"s":"L"},{"t":1658,"v":38.6,"s":"L"},{"t":1672,"v":39,"s":"L"},{"t":1687,"v":39.4,"s":"L"},{"t":1701,"v":39.8,"s":"L"},{"t":1715,"v":40.2,"s":"L"},{"t":1729,"v":40.6,"s":"L"},{"t":1743,"v":40.8,"s":"L"},{"t":1757,"v":41,"s":"L"},{"t":1772,"v":41.4,"s":"L"},{"t":1784,"v":41.6,"s":"L"},
{"t":0,"v":2.7,"s":"H"},{"t":4,"v":5.5,"s":"H"},{"t":7,"v":6,"s":"H"},{"t":12,"v":6.6,"s":"H"},{"t":18,"v":6.4,"s":"H"},{"t":25,"v":7,"s":"H"},{"t":32,"v":6.8,"s":"H"},{"t":39,"v":7.2,"s":"H"},{"t":46,"v":8.2,"s":"H"},{"t":53,"v":9.8,"s":"H"},{"t":60,"v":10.2,"s":"H"},{"t":67,"v":10.8,"s":"H"},{"t":74,"v":10.4,"s":"H"},{"t":81,"v":10.7,"s":"H"},{"t":88,"v":10.5,"s":"H"},{"t":95,"v":11.5,"s":"H"},{"t":103,"v":13.3,"s":"H"},{"t":110,"v":13.7,"s":"H"},{"t":117,"v":14.2,"s":"H"},{"t":124,"v":14.6,"s":"H"},{"t":131,"v":15.5,"s":"H"},{"t":138,"v":15.2,"s":"H"},{"t":145,"v":15.6,"s":"H"},{"t":152,"v":15.4,"s":"H"},{"t":159,"v":15.9,"s":"H"},{"t":166,"v":16,"s":"H"},{"t":173,"v":16.6,"s":"H"},{"t":180,"v":17.4,"s":"H"},{"t":187,"v":18.9,"s":"H"},{"t":194,"v":19.9,"s":"H"},{"t":201,"v":20.6,"s":"H"},{"t":208,"v":21.3,"s":"H"},{"t":216,"v":21.9,"s":"H"},{"t":223,"v":22.1,"s":"H"},{"t":230,"v":22.6,"s":"H"},{"t":237,"v":22.8,"s":"H"},{"t":244,"v":23.5,"s":"H"},{"t":251,"v":23.8,"s":"H"},{"t":258,"v":24.9,"s":"H"},{"t":265,"v":25.6,"s":"H"},{"t":272,"v":25.2,"s":"H"},{"t":279,"v":25.8,"s":"H"},{"t":286,"v":25.4,"s":"H"},{"t":293,"v":26,"s":"H"},{"t":300,"v":26.3,"s":"H"},{"t":308,"v":26.7,"s":"H"},{"t":315,"v":26.5,"s":"H"},{"t":322,"v":27.1,"s":"H"},{"t":329,"v":26.7,"s":"H"},{"t":336,"v":27.2,"s":"H"},{"t":343,"v":26.9,"s":"H"},{"t":350,"v":27.5,"s":"H"},{"t":357,"v":27.3,"s":"H"},{"t":364,"v":27.9,"s":"H"},{"t":371,"v":27.8,"s":"H"},{"t":378,"v":27.4,"s":"H"},{"t":385,"v":27.6,"s":"H"},{"t":392,"v":27,"s":"H"},{"t":399,"v":27.2,"s":"H"},{"t":406,"v":26.6,"s":"H"},{"t":414,"v":26.5,"s":"H"},{"t":421,"v":27.1,"s":"H"},{"t":428,"v":26.8,"s":"H"},{"t":435,"v":27.3,"s":"H"},{"t":442,"v":26.9,"s":"H"},{"t":449,"v":27.1,"s":"H"},{"t":456,"v":27.6,"s":"H"},{"t":463,"v":27.4,"s":"H"},{"t":470,"v":27.9,"s":"H"},{"t":477,"v":27.7,"s":"H"},{"t":484,"v":28.2,"s":"H"},{"t":491,"v":27.8,"s":"H"},{"t":498,"v":28.3,"s":"H"},{"t":505,"v":28,"s":"H"},{"t":513,"v":28.4,"s":"H"},{"t":520,"v":28.1,"s":"H"},{"t":527,"v":28.7,"s":"H"},{"t":534,"v":28.5,"s":"H"},{"t":541,"v":29.1,"s":"H"},{"t":548,"v":29,"s":"H"},{"t":555,"v":29.6,"s":"H"},{"t":562,"v":28.9,"s":"H"},{"t":569,"v":27.5,"s":"H"},{"t":576,"v":27.1,"s":"H"},{"t":583,"v":26.6,"s":"H"},{"t":591,"v":26.1,"s":"H"},{"t":598,"v":25.7,"s":"H"},{"t":605,"v":25.4,"s":"H"},{"t":612,"v":26,"s":"H"},{"t":619,"v":26.6,"s":"H"},{"t":626,"v":27.6,"s":"H"},{"t":633,"v":28.2,"s":"H"},{"t":640,"v":28.5,"s":"H"},{"t":647,"v":28.9,"s":"H"},{"t":654,"v":29.2,"s":"H"},{"t":661,"v":29.3,"s":"H"},{"t":668,"v":29.6,"s":"H"},{"t":675,"v":29.1,"s":"H"},{"t":682,"v":29.4,"s":"H"},{"t":690,"v":28.9,"s":"H"},{"t":697,"v":29.3,"s":"H"},{"t":704,"v":28.8,"s":"H"},{"t":711,"v":29.2,"s":"H"},{"t":718,"v":29,"s":"H"},{"t":725,"v":29.5,"s":"H"},{"t":732,"v":29.1,"s":"H"},{"t":739,"v":29.6,"s":"H"},{"t":746,"v":29.2,"s":"H"},{"t":753,"v":29.7,"s":"H"},{"t":760,"v":29.3,"s":"H"},{"t":767,"v":29.7,"s":"H"},{"t":774,"v":29,"s":"H"},{"t":781,"v":28.6,"s":"H"},{"t":788,"v":28.2,"s":"H"},{"t":795,"v":27.6,"s":"H"},{"t":803,"v":27,"s":"H"},{"t":810,"v":27.8,"s":"H"},{"t":817,"v":28.4,"s":"H"},{"t":824,"v":29.1,"s":"H"},{"t":831,"v":29.5,"s":"H"},{"t":838,"v":29,"s":"H"},{"t":845,"v":29.2,"s":"H"},{"t":852,"v":28.6,"s":"H"},{"t":859,"v":28.6,"s":"H"},{"t":866,"v":28.1,"s":"H"},{"t":873,"v":27.8,"s":"H"},{"t":880,"v":27,"s":"H"},{"t":887,"v":27.6,"s":"H"},{"t":894,"v":28.2,"s":"H"},{"t":901,"v":28.6,"s":"H"},{"t":908,"v":28.8,"s":"H"},{"t":915,"v":29.2,"s":"H"},{"t":923,"v":28.9,"s":"H"},{"t":930,"v":29.3,"s":"H"},{"t":937,"v":29,"s":"H"},{"t":944,"v":28.4,"s":"H"},{"t":951,"v":28,"s":"H"},{"t":958,"v":27.6,"s":"H"},{"t":965,"v":27.2,"s":"H"},{"t":972,"v":26.8,"s":"H"},{"t":979,"v":26.4,"s":"H"},{"t":986,"v":26.2,"s":"H"},{"t":994,"v":26.6,"s":"H"},{"t":1001,"v":26.9,"s":"H"},{"t":1008,"v":27.3,"s":"H"},{"t":1015,"v":27.2,"s":"H"},{"t":1022,"v":27.5,"s":"H"},{"t":1029,"v":27.6,"s":"H"},{"t":1036,"v":28.1,"s":"H"},{"t":1043,"v":27.9,"s":"H"},{"t":1050,"v":28.3,"s":"H"},{"t":1057,"v":28.1,"s":"H"},{"t":1064,"v":28.6,"s":"H"},{"t":1071,"v":28.3,"s":"H"},{"t":1079,"v":28.7,"s":"H"},{"t":1086,"v":28.4,"s":"H"},{"t":1093,"v":28.5,"s":"H"},{"t":1100,"v":28.1,"s":"H"},{"t":1107,"v":27.9,"s":"H"},{"t":1114,"v":27.4,"s":"H"},{"t":1121,"v":27.2,"s":"H"},{"t":1128,"v":27,"s":"H"},{"t":1135,"v":27.5,"s":"H"},{"t":1142,"v":27.9,"s":"H"},{"t":1149,"v":28.3,"s":"H"},{"t":1156,"v":28.2,"s":"H"},{"t":1163,"v":28.5,"s":"H"},{"t":1170,"v":28.2,"s":"H"},{"t":1177,"v":28.4,"s":"H"},{"t":1184,"v":27.8,"s":"H"},{"t":1191,"v":27.6,"s":"H"},{"t":1199,"v":27.3,"s":"H"},{"t":1206,"v":27.5,"s":"H"},{"t":1213,"v":27.1,"s":"H"},{"t":1220,"v":27.4,"s":"H"},{"t":1227,"v":27,"s":"H"},{"t":1234,"v":27.2,"s":"H"},{"t":1241,"v":27.6,"s":"H"},{"t":1248,"v":28.1,"s":"H"},{"t":1255,"v":28.4,"s":"H"},{"t":1262,"v":28.9,"s":"H"},{"t":1270,"v":29,"s":"H"},{"t":1277,"v":28.8,"s":"H"},{"t":1284,"v":29.2,"s":"H"},{"t":1291,"v":28.8,"s":"H"},{"t":1298,"v":29.1,"s":"H"},{"t":1305,"v":28.7,"s":"H"},{"t":1312,"v":29.1,"s":"H"},{"t":1319,"v":28.8,"s":"H"},{"t":1326,"v":29.2,"s":"H"},{"t":1333,"v":28.8,"s":"H"},{"t":1340,"v":28.9,"s":"H"},{"t":1348,"v":28.4,"s":"H"},{"t":1355,"v":28.3,"s":"H"},{"t":1362,"v":27.8,"s":"H"},{"t":1369,"v":27.9,"s":"H"},{"t":1376,"v":27.4,"s":"H"},{"t":1383,"v":27.7,"s":"H"},{"t":1390,"v":27.5,"s":"H"},{"t":1397,"v":27.6,"s":"H"},{"t":1404,"v":27.1,"s":"H"},{"t":1411,"v":27.3,"s":"H"},{"t":1418,"v":26.9,"s":"H"},{"t":1425,"v":27.1,"s":"H"},{"t":1432,"v":26.7,"s":"H"},{"t":1439,"v":26.9,"s":"H"},{"t":1446,"v":26.5,"s":"H"},{"t":1453,"v":26.9,"s":"H"},{"t":1460,"v":27.2,"s":"H"},{"t":1467,"v":27.6,"s":"H"},{"t":1475,"v":27.7,"s":"H"},{"t":1482,"v":28.1,"s":"H"},{"t":1489,"v":28.3,"s":"H"},{"t":1496,"v":28.8,"s":"H"},{"t":1503,"v":29,"s":"H"},{"t":1510,"v":29.5,"s":"H"},{"t":1517,"v":29.6,"s":"H"},{"t":1524,"v":30,"s":"H"},{"t":1531,"v":29.8,"s":"H"},{"t":1538,"v":29.6,"s":"H"},{"t":1545,"v":29.4,"s":"H"},{"t":1552,"v":29.5,"s":"H"},{"t":1559,"v":29.1,"s":"H"},{"t":1566,"v":29.2,"s":"H"},{"t":1574,"v":28.8,"s":"H"},{"t":1581,"v":29,"s":"H"},{"t":1588,"v":28.7,"s":"H"},{"t":1595,"v":28.5,"s":"H"},{"t":1602,"v":28,"s":"H"},{"t":1609,"v":28.1,"s":"H"},{"t":1616,"v":27.6,"s":"H"},{"t":1623,"v":27.8,"s":"H"},{"t":1630,"v":27.4,"s":"H"},{"t":1637,"v":27.7,"s":"H"},{"t":1644,"v":27.5,"s":"H"},{"t":1651,"v":27.8,"s":"H"},{"t":1658,"v":27.6,"s":"H"},{"t":1665,"v":28,"s":"H"},{"t":1672,"v":27.8,"s":"H"},{"t":1680,"v":28.1,"s":"H"},{"t":1687,"v":28.5,"s":"H"},{"t":1694,"v":29.1,"s":"H"},{"t":1701,"v":29.5,"s":"H"},{"t":1708,"v":30,"s":"H"},{"t":1715,"v":30.5,"s":"H"},{"t":1722,"v":30.4,"s":"H"},{"t":1729,"v":30.9,"s":"H"},{"t":1736,"v":31,"s":"H"},{"t":1743,"v":31.4,"s":"H"},{"t":1750,"v":31.5,"s":"H"},{"t":1757,"v":32.3,"s":"H"},{"t":1765,"v":33.1,"s":"H"},{"t":1772,"v":33.8,"s":"H"},{"t":1779,"v":34.3,"s":"H"},{"t":1784,"v":34.6,"s":"H"}
],
"nodes": [
{"t":0,"v":1,"s":"N"},{"t":3,"v":5,"s":"N"},{"t":6,"v":8,"s":"N"},{"t":10,"v":10,"s":"N"},{"t":14,"v":11,"s":"N"},{"t":18,"v":12,"s":"N"},{"t":25,"v":13,"s":"N"},{"t":42,"v":14,"s":"N"},{"t":53,"v":16,"s":"N"},{"t":64,"v":17,"s":"N"},{"t":103,"v":18,"s":"N"},{"t":127,"v":20,"s":"N"},{"t":138,"v":21,"s":"N"},{"t":148,"v":22,"s":"N"},{"t":195,"v":23,"s":"N"},{"t":213,"v":25,"s":"N"},{"t":605,"v":26,"s":"N"},{"t":690,"v":27,"s":"N"},{"t":1619,"v":28,"s":"N"},{"t":1784,"v":28,"s":"N"},
{"t":0,"v":1,"s":"L"},{"t":2,"v":3,"s":"L"},{"t":4,"v":6,"s":"L"},{"t":6,"v":9,"s":"L"},{"t":8,"v":12,"s":"L"},{"t":11,"v":14,"s":"L"},{"t":14,"v":16,"s":"L"},{"t":17,"v":18,"s":"L"},{"t":22,"v":19,"s":"L"},{"t":50,"v":21,"s":"L"},{"t":53,"v":23,"s":"L"},{"t":64,"v":25,"s":"L"},{"t":85,"v":26,"s":"L"},{"t":95,"v":28,"s":"L"},{"t":102,"v":31,"s":"L"},{"t":110,"v":32,"s":"L"},{"t":120,"v":34,"s":"L"},{"t":126,"v":35,"s":"L"},{"t":148,"v":36,"s":"L"},{"t":209,"v":37,"s":"L"},{"t":216,"v":38,"s":"L"},{"t":368,"v":40,"s":"L"},{"t":1784,"v":40,"s":"L"},
{"t":0,"v":1,"s":"H"},{"t":3,"v":3,"s":"H"},{"t":5,"v":5,"s":"H"},{"t":18,"v":6,"s":"H"},{"t":25,"v":7,"s":"H"},{"t":32,"v":8,"s":"H"},{"t":42,"v":9,"s":"H"},{"t":53,"v":11,"s":"H"},{"t":95,"v":12,"s":"H"},{"t":103,"v":13,"s":"H"},{"t":113,"v":15,"s":"H"},{"t":127,"v":17,"s":"H"},{"t":195,"v":18,"s":"H"},{"t":202,"v":19,"s":"H"},{"t":219,"v":20,"s":"H"},{"t":240,"v":21,"s":"H"},{"t":258,"v":22,"s":"H"},{"t":477,"v":23,"s":"H"},{"t":1025,"v":24,"s":"H"},{"t":1609,"v":25,"s":"H"},{"t":1784,"v":25,"s":"H"}
]
},
"vconcat": [
{
"width": 840, "height": 198,
"data": {"name": "spec"},
"layer": [
{"mark": {"type": "line", "strokeWidth": 3, "clip": true},
 "encoding": {
  "x": {"field": "t", "type": "quantitative", "scale": {"domain": [0, 1783], "nice": false, "zero": false}, "axis": null},
  "y": {"field": "v", "type": "quantitative", "scale": {"domain": [0, 60], "nice": false}, "axis": {"title": "Specificity", "values": [0,10,20,30,40,50,60]}},
  "color": {"field": "s", "type": "nominal", "scale": {"domain": ["N","L","H"], "range": ["#000000","#0000ff","#ff0000"]},
   "legend": {"labelExpr": "datum.label == 'N' ? 'Normal winner attraction force' : datum.label == 'L' ? 'Low winner attraction force' : 'High winner attraction force'"}}
 }},
{"mark": {"type": "line", "strokeOpacity": 0},
 "encoding": {
  "x": {"field": "t", "type": "quantitative", "scale": {"domain": [0, 1783], "nice": false, "zero": false}, "axis": null},
  "y": {"field": "v", "type": "quantitative", "axis": {"orient": "right", "title": null, "labels": false, "values": [10,20,30,40,50]}}
 }}
],
"resolve": {"axis": {"y": "independent", "x": "independent"}}
},
{
"width": 840, "height": 198,
"data": {"name": "sens"},
"layer": [
{"mark": {"type": "line", "strokeWidth": 3, "clip": true},
 "encoding": {
  "x": {"field": "t", "type": "quantitative", "scale": {"domain": [0, 1783], "nice": false, "zero": false}, "axis": null},
  "y": {"field": "v", "type": "quantitative", "scale": {"domain": [0, 60], "nice": false}, "axis": {"title": "Sensitivity", "values": [0,10,20,30,40,50]}},
  "color": {"field": "s", "type": "nominal", "scale": {"domain": ["N","L","H"], "range": ["#000000","#0000ff","#ff0000"]}}
 }},
{"mark": {"type": "line", "strokeOpacity": 0},
 "encoding": {
  "x": {"field": "t", "type": "quantitative", "scale": {"domain": [0, 1783], "nice": false, "zero": false}, "axis": null},
  "y": {"field": "v", "type": "quantitative", "axis": {"orient": "right", "title": null, "labels": false, "values": [10,20,30,40,50]}}
 }}
],
"resolve": {"axis": {"y": "independent", "x": "independent"}}
},
{
"width": 840, "height": 198,
"data": {"name": "nodes"},
"layer": [
{"mark": {"type": "line", "strokeWidth": 3, "interpolate": "step-after", "clip": true},
 "encoding": {
  "x": {"field": "t", "type": "quantitative", "scale": {"domain": [0, 1783], "nice": false, "zero": false}, "axis": {"title": "time (s)", "values": [0,200,400,600,800,1000,1200,1400,1600], "format": "d", "labelFlush": false, "labelPadding": 24, "titlePadding": 1}},
  "y": {"field": "v", "type": "quantitative", "scale": {"domain": [0, 50], "nice": false}, "axis": {"title": "No. of nodes", "values": [0,10,20,30,40]}},
  "color": {"field": "s", "type": "nominal", "scale": {"domain": ["N","L","H"], "range": ["#000000","#0000ff","#ff0000"]}}
 }},
{"mark": {"type": "line", "strokeOpacity": 0},
 "encoding": {
  "x": {"field": "t", "type": "quantitative", "scale": {"domain": [0, 1783], "nice": false, "zero": false}, "axis": null},
  "y": {"field": "v", "type": "quantitative", "axis": {"orient": "right", "title": null, "labels": false, "values": [10,20,30,40]}}
 }}
],
"resolve": {"axis": {"y": "independent", "x": "independent"}}
}
],
"spacing": 0,
"bounds": "flush",
"config": {
 "font": "Liberation Sans",
 "view": {"stroke": "black", "strokeWidth": 2},
 "axis": {"grid": false, "domain": false, "tickColor": "black", "tickWidth": 1.5, "tickSize": -9, "labelFont": "Liberation Sans", "labelFontSize": 21, "labelColor": "black", "titleFont": "Liberation Sans", "titleFontSize": 21, "titleFontWeight": "normal", "titleColor": "black", "labelPadding": 24, "titlePadding": 29},
 "legend": {"orient": "none", "legendX": 552, "legendY": -75, "title": null, "direction": "vertical", "symbolType": "M-3,0H3", "symbolSize": 484, "symbolStrokeWidth": 3, "labelAlign": "right", "labelOffset": -60, "labelLimit": 0, "labelFontSize": 22, "labelFont": "Liberation Sans", "labelColor": "black", "rowPadding": 0, "padding": 0, "offset": 0}
}
}
